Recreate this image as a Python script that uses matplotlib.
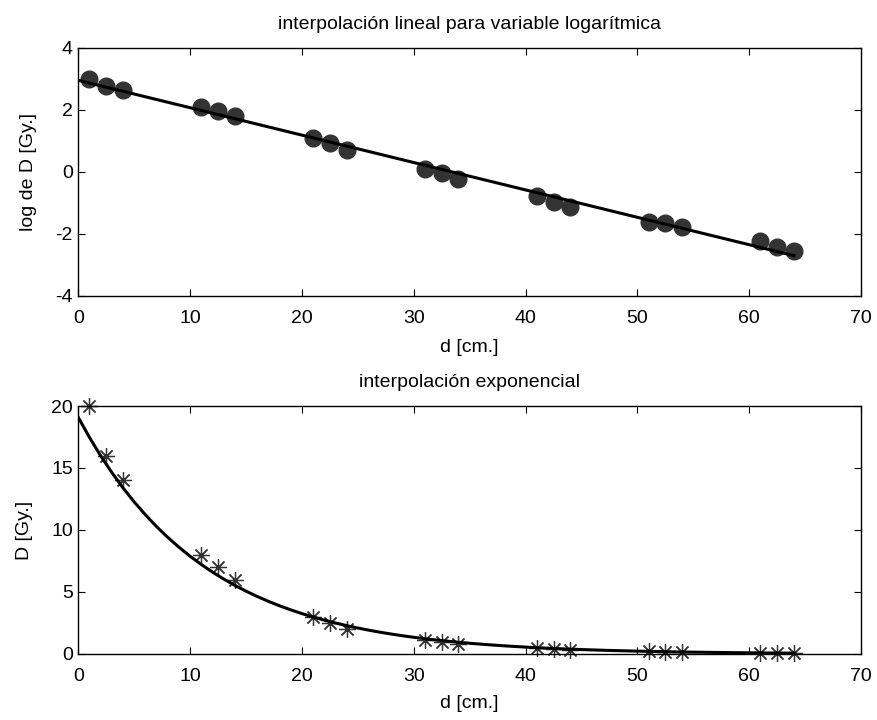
import numpy as np
import matplotlib
matplotlib.use("Agg")
import matplotlib.pyplot as plt

# depth [cm] and dose [Gy]
d = [1, 2.5, 4, 11, 12.5, 14, 21, 22.5, 24, 31, 32.5, 34,
     41, 42.5, 44, 51, 52.5, 54, 61, 62.5, 64]
D = [20, 16, 14, 8, 7, 6, 3, 2.5, 2, 1.1, 0.95, 0.8,
     0.45, 0.38, 0.32, 0.2, 0.19, 0.17, 0.106, 0.089, 0.078]

x_ticks = [0, 10, 20, 30, 40, 50, 60, 70]
top_yticks = [-4, -2, 0, 2, 4]
bot_yticks = [0, 5, 10, 15, 20]

plt.rcParams['font.family'] = ['Liberation Sans', 'DejaVu Sans']
plt.rcParams['font.size'] = 14
plt.rcParams['axes.unicode_minus'] = False


def matlab_axes(ax):
    ax.tick_params(direction='in', top=True, right=True, length=5,
                   width=0.8, labelsize=14)
    ax.tick_params(axis='x', pad=10)
    ax.tick_params(axis='y', pad=4)
    for s in ax.spines.values():
        s.set_linewidth(1.0)


def main():
    d_arr = np.array(d)
    logD = np.log(np.array(D))
    b, a = np.polyfit(d_arr, logD, 1)
    grid = np.arange(0, 65, 1.0)
    fit = a + b * grid

    fig = plt.figure(figsize=(8.77, 7.2), dpi=100)
    ax1 = fig.add_axes([0.0893, 0.5893, 0.8925, 0.3444])
    ax2 = fig.add_axes([0.0893, 0.0917, 0.8925, 0.3444])

    ax1.plot(d_arr, logD, 'o', color='#333333', markersize=12)
    ax1.plot(grid, fit, '-', color='black', linewidth=2.2)
    ax1.set_xlim(0, 70)
    ax1.set_ylim(-4, 4)
    ax1.set_xticks(x_ticks)
    ax1.set_yticks(top_yticks)
    ax1.set_xlabel('d [cm.]', labelpad=9)
    ax1.set_ylabel('log de D [Gy.]', labelpad=13)
    ax1.set_title('interpolación lineal para variable logarítmica',
                  fontsize=14, pad=13.7)
    matlab_axes(ax1)

    ax2.plot(d_arr, D, linestyle='none', marker=(8, 2, 0), color='#333333',
             markersize=12, markeredgewidth=0.9, clip_on=False)
    ax2.plot(grid, np.exp(fit), '-', color='black', linewidth=2.2)
    ax2.set_xlim(0, 70)
    ax2.set_ylim(0, 20)
    ax2.set_xticks(x_ticks)
    ax2.set_yticks(bot_yticks)
    ax2.set_xlabel('d [cm.]', labelpad=7)
    ax2.set_ylabel('D [Gy.]', labelpad=13)
    ax2.set_title('interpolación exponencial', fontsize=14, pad=13.7)
    matlab_axes(ax2)

    fig.savefig('out.png', dpi=100)


if __name__ == '__main__':
    main()
